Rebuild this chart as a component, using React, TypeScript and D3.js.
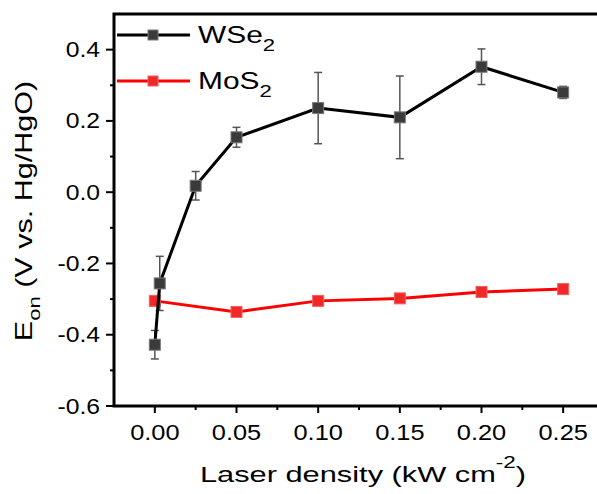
import React, { useEffect, useRef } from 'react';
import * as d3 from 'd3';

const wse2X = [0, 0.003, 0.025, 0.05, 0.1, 0.15, 0.2, 0.25];
const wse2Y = [-0.428, -0.256, 0.018, 0.154, 0.236, 0.21, 0.352, 0.28];
const wse2Err = [0.04, 0.076, 0.04, 0.028, 0.1, 0.116, 0.05, 0.017];

const mos2X = [0, 0.05, 0.1, 0.15, 0.2, 0.25];
const mos2Y = [-0.305, -0.336, -0.305, -0.298, -0.28, -0.272];

const xTicks = [0, 0.05, 0.1, 0.15, 0.2, 0.25];
const xMinor = [0.025, 0.075, 0.125, 0.175, 0.225];
const yTicks = [-0.6, -0.4, -0.2, 0, 0.2, 0.4];
const yMinor = [-0.5, -0.3, -0.1, 0.1, 0.3];

const W = 597;
const H = 494;
const FONT = '"Liberation Sans", Arial, sans-serif';

// text in the original is wider than Arial, so stretch along the baseline
const label = (g: any, x: number, y: number, size: number, sx: number, anchor: string, rot = 0) =>
  g.append('text')
    .attr('transform', `translate(${x},${y}) rotate(${rot}) scale(${sx},1)`)
    .attr('text-anchor', anchor)
    .style('font-family', FONT)
    .style('font-size', `${size}px`);

export default function App() {
  const ref = useRef<SVGSVGElement>(null);

  useEffect(() => {
    const svg = d3.select(ref.current);
    svg.selectAll('*').remove();

    const x = d3.scaleLinear().domain([-0.025, 0.275]).range([114, 604]);
    const y = d3.scaleLinear().domain([-0.6, 0.5]).range([406, 14]);

    // frame (right side runs off the picture)
    svg.append('path')
      .attr('d', `M${x(0.275)},${y(0.5)} H${x(-0.025)} V${y(-0.6)} H${x(0.275)}`)
      .attr('fill', 'none')
      .attr('stroke', '#000')
      .attr('stroke-width', 3);

    // x ticks
    const gx = svg.append('g');
    gx.selectAll('line.maj').data(xTicks).enter().append('line')
      .attr('x1', d => x(d)).attr('x2', d => x(d))
      .attr('y1', 406).attr('y2', 413)
      .attr('stroke', '#000').attr('stroke-width', 2);
    gx.selectAll('line.min').data(xMinor).enter().append('line')
      .attr('x1', d => x(d)).attr('x2', d => x(d))
      .attr('y1', 406).attr('y2', 410)
      .attr('stroke', '#000').attr('stroke-width', 2);
    xTicks.forEach(d => {
      label(gx, x(d), 439.5, 21.5, 1.18, 'middle').text(d.toFixed(2));
    });

    // y ticks
    const gy = svg.append('g');
    gy.selectAll('line.maj').data(yTicks).enter().append('line')
      .attr('x1', 106).attr('x2', 114)
      .attr('y1', d => y(d)).attr('y2', d => y(d))
      .attr('stroke', '#000').attr('stroke-width', 2);
    gy.selectAll('line.min').data(yMinor).enter().append('line')
      .attr('x1', 110).attr('x2', 114)
      .attr('y1', d => y(d)).attr('y2', d => y(d))
      .attr('stroke', '#000').attr('stroke-width', 2);
    yTicks.forEach(d => {
      label(gy, 100, y(d) + 7.5, 21.5, 1.15, 'end').text(d.toFixed(1));
    });

    // axis titles
    const yl = label(svg, 32, 211, 23.5, 1.3, 'middle', -90);
    yl.append('tspan').text('E');
    yl.append('tspan').attr('dy', 8).style('font-size', '17px').text('on');
    yl.append('tspan').attr('dy', -8).text(' (V vs. Hg/HgO)');

    const xl = label(svg, 363, 482, 22, 1.4, 'middle');
    xl.append('tspan').text('Laser density (kW cm');
    xl.append('tspan').attr('dy', -14).style('font-size', '16px').text('-2');
    xl.append('tspan').attr('dy', 14).text(')');

    const line = d3.line<number>();

    // MoS2
    const mos2 = mos2X.map((v, i) => [x(v), y(mos2Y[i])] as [number, number]);
    svg.append('path')
      .attr('d', line(mos2 as any))
      .attr('fill', 'none').attr('stroke', '#ff0000').attr('stroke-width', 3);
    svg.selectAll('rect.mos').data(mos2).enter().append('rect')
      .attr('x', d => d[0] - 5.5).attr('y', d => d[1] - 5.5)
      .attr('width', 11).attr('height', 11)
      .attr('fill', '#f02828').attr('stroke', '#f06060').attr('stroke-width', 1);

    // WSe2 error bars
    const eb = svg.append('g').attr('stroke', '#555').attr('stroke-width', 1.5);
    wse2X.forEach((v, i) => {
      const cx = x(v);
      const top = y(wse2Y[i] + wse2Err[i]);
      const bot = y(wse2Y[i] - wse2Err[i]);
      eb.append('line').attr('x1', cx).attr('x2', cx).attr('y1', top).attr('y2', bot);
      eb.append('line').attr('x1', cx - 4).attr('x2', cx + 4).attr('y1', top).attr('y2', top);
      eb.append('line').attr('x1', cx - 4).attr('x2', cx + 4).attr('y1', bot).attr('y2', bot);
    });

    const wse2 = wse2X.map((v, i) => [x(v), y(wse2Y[i])] as [number, number]);
    svg.append('path')
      .attr('d', line(wse2 as any))
      .attr('fill', 'none').attr('stroke', '#000').attr('stroke-width', 3);
    svg.selectAll('rect.ws').data(wse2).enter().append('rect')
      .attr('x', d => d[0] - 5.5).attr('y', d => d[1] - 5.5)
      .attr('width', 11).attr('height', 11)
      .attr('fill', '#3a3a3a').attr('stroke', '#777').attr('stroke-width', 1);

    // legend
    const legend = [
      { name: 'WSe', color: '#000', fill: '#3a3a3a', edge: '#777', ly: 35 },
      { name: 'MoS', color: '#ff0000', fill: '#f02828', edge: '#f06060', ly: 81 },
    ];
    legend.forEach(l => {
      svg.append('line').attr('x1', 117).attr('x2', 190).attr('y1', l.ly).attr('y2', l.ly)
        .attr('stroke', l.color).attr('stroke-width', 3);
      svg.append('rect').attr('x', 148).attr('y', l.ly - 5).attr('width', 10).attr('height', 10)
        .attr('fill', l.fill).attr('stroke', l.edge).attr('stroke-width', 1);
      const t = label(svg, 198, l.ly + 8, 23, 1.3, 'start');
      t.append('tspan').text(l.name);
      t.append('tspan').attr('dy', 8).style('font-size', '17px').text('2');
    });
  }, []);

  return (
    <div style={{ position: 'fixed', left: 0, top: 0 }}>
      <svg ref={ref} width={W} height={H} style={{ display: 'block', background: '#fff' }} />
    </div>
  );
}
